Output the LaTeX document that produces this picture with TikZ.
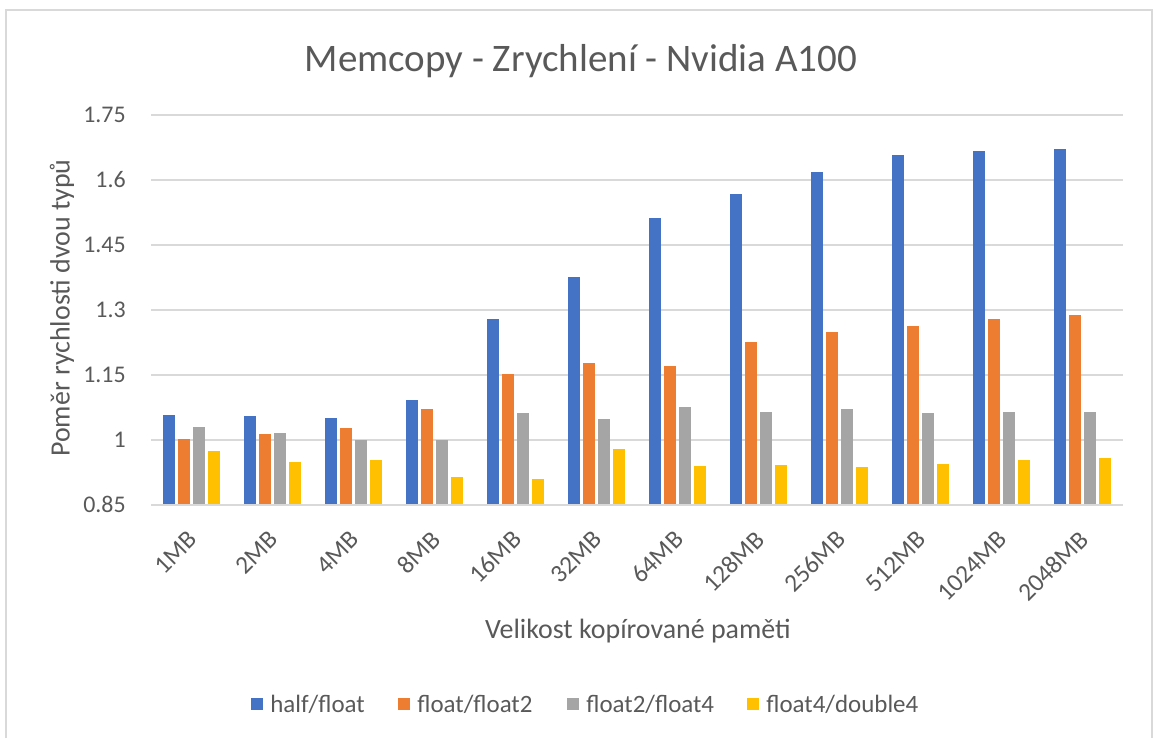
\documentclass[tikz,border=0pt]{standalone}
\usepackage{fontspec}
\setmainfont{Carlito}
\definecolor{hfblue}{HTML}{4472C4}
\definecolor{ffor}{HTML}{ED7D31}
\definecolor{fggrey}{HTML}{A5A5A5}
\definecolor{fdyel}{HTML}{FFC000}
\definecolor{txtgrey}{HTML}{595959}
\definecolor{gridgrey}{HTML}{D9D9D9}
\begin{document}
\begin{tikzpicture}[x=0.02cm, y=-0.02cm,
    grid/.style={gridgrey, line width=1pt},
    tick/.style={anchor=east, inner sep=0pt, text=txtgrey, font=\fontsize{13.6}{16}\selectfont},
    cat/.style={anchor=east, rotate=45, inner sep=0pt, text=txtgrey, font=\fontsize{14.4}{17}\selectfont},
    axt/.style={inner sep=0pt, text=txtgrey, font=\fontsize{15.9}{19}\selectfont},
    key/.style={anchor=west, inner sep=0pt, text=txtgrey, font=\fontsize{14.2}{17}\selectfont}]
  \useasboundingbox (0,0) rectangle (1154,738);
  \draw[gridgrey, line width=1.1pt] (6,738) -- (6,10) -- (1152,10) -- (1152,738);
  \node[inner sep=0pt, text=txtgrey, font=\fontsize{22.2}{26}\selectfont] (title) at (581,61) {Memcopy - Zrychlení - Nvidia A100};
  \begin{scope}[y=8.6667cm, yshift=-17.4667cm]
    \draw[grid] (151,1.75) -- (1123,1.75);
    \draw[grid] (151,1.6) -- (1123,1.6);
    \draw[grid] (151,1.45) -- (1123,1.45);
    \draw[grid] (151,1.3) -- (1123,1.3);
    \draw[grid] (151,1.15) -- (1123,1.15);
    \draw[grid] (151,1) -- (1123,1);
    \node[tick] (t175) at (126,1.75) {1.75};
    \node[tick] (t160) at (126,1.6) {1.6};
    \node[tick] (t145) at (126,1.45) {1.45};
    \node[tick] (t130) at (126,1.3) {1.3};
    \node[tick] (t115) at (126,1.15) {1.15};
    \node[tick] (t100) at (126,1) {1};
    \node[tick] (t085) at (126,0.85) {0.85};
    % 1MB
    \begin{scope}[shift={(191.5,0)}]
      \fill[hfblue] (-28.5,0.85) rectangle (-16.5,1.058);
      \fill[ffor] (-13.5,0.85) rectangle (-1.5,1.001);
      \fill[fggrey] (1.5,0.85) rectangle (13.5,1.030);
      \fill[fdyel] (16.5,0.85) rectangle (28.5,0.974);
    \end{scope}
    % 2MB
    \begin{scope}[shift={(272.5,0)}]
      \fill[hfblue] (-28.5,0.85) rectangle (-16.5,1.055);
      \fill[ffor] (-13.5,0.85) rectangle (-1.5,1.014);
      \fill[fggrey] (1.5,0.85) rectangle (13.5,1.016);
      \fill[fdyel] (16.5,0.85) rectangle (28.5,0.949);
    \end{scope}
    % 4MB
    \begin{scope}[shift={(353.5,0)}]
      \fill[hfblue] (-28.5,0.85) rectangle (-16.5,1.051);
      \fill[ffor] (-13.5,0.85) rectangle (-1.5,1.027);
      \fill[fggrey] (1.5,0.85) rectangle (13.5,1.000);
      \fill[fdyel] (16.5,0.85) rectangle (28.5,0.954);
    \end{scope}
    % 8MB
    \begin{scope}[shift={(434.5,0)}]
      \fill[hfblue] (-28.5,0.85) rectangle (-16.5,1.091);
      \fill[ffor] (-13.5,0.85) rectangle (-1.5,1.072);
      \fill[fggrey] (1.5,0.85) rectangle (13.5,1.000);
      \fill[fdyel] (16.5,0.85) rectangle (28.5,0.914);
    \end{scope}
    % 16MB
    \begin{scope}[shift={(515.5,0)}]
      \fill[hfblue] (-28.5,0.85) rectangle (-16.5,1.278);
      \fill[ffor] (-13.5,0.85) rectangle (-1.5,1.152);
      \fill[fggrey] (1.5,0.85) rectangle (13.5,1.061);
      \fill[fdyel] (16.5,0.85) rectangle (28.5,0.910);
    \end{scope}
    % 32MB
    \begin{scope}[shift={(596.5,0)}]
      \fill[hfblue] (-28.5,0.85) rectangle (-16.5,1.377);
      \fill[ffor] (-13.5,0.85) rectangle (-1.5,1.178);
      \fill[fggrey] (1.5,0.85) rectangle (13.5,1.048);
      \fill[fdyel] (16.5,0.85) rectangle (28.5,0.979);
    \end{scope}
    % 64MB
    \begin{scope}[shift={(677.5,0)}]
      \fill[hfblue] (-28.5,0.85) rectangle (-16.5,1.512);
      \fill[ffor] (-13.5,0.85) rectangle (-1.5,1.170);
      \fill[fggrey] (1.5,0.85) rectangle (13.5,1.075);
      \fill[fdyel] (16.5,0.85) rectangle (28.5,0.939);
    \end{scope}
    % 128MB
    \begin{scope}[shift={(758.5,0)}]
      \fill[hfblue] (-28.5,0.85) rectangle (-16.5,1.568);
      \fill[ffor] (-13.5,0.85) rectangle (-1.5,1.225);
      \fill[fggrey] (1.5,0.85) rectangle (13.5,1.065);
      \fill[fdyel] (16.5,0.85) rectangle (28.5,0.941);
    \end{scope}
    % 256MB
    \begin{scope}[shift={(839.5,0)}]
      \fill[hfblue] (-28.5,0.85) rectangle (-16.5,1.618);
      \fill[ffor] (-13.5,0.85) rectangle (-1.5,1.250);
      \fill[fggrey] (1.5,0.85) rectangle (13.5,1.071);
      \fill[fdyel] (16.5,0.85) rectangle (28.5,0.937);
    \end{scope}
    % 512MB
    \begin{scope}[shift={(920.5,0)}]
      \fill[hfblue] (-28.5,0.85) rectangle (-16.5,1.658);
      \fill[ffor] (-13.5,0.85) rectangle (-1.5,1.262);
      \fill[fggrey] (1.5,0.85) rectangle (13.5,1.061);
      \fill[fdyel] (16.5,0.85) rectangle (28.5,0.944);
    \end{scope}
    % 1024MB
    \begin{scope}[shift={(1001.5,0)}]
      \fill[hfblue] (-28.5,0.85) rectangle (-16.5,1.668);
      \fill[ffor] (-13.5,0.85) rectangle (-1.5,1.280);
      \fill[fggrey] (1.5,0.85) rectangle (13.5,1.064);
      \fill[fdyel] (16.5,0.85) rectangle (28.5,0.954);
    \end{scope}
    % 2048MB
    \begin{scope}[shift={(1082.5,0)}]
      \fill[hfblue] (-28.5,0.85) rectangle (-16.5,1.671);
      \fill[ffor] (-13.5,0.85) rectangle (-1.5,1.288);
      \fill[fggrey] (1.5,0.85) rectangle (13.5,1.064);
      \fill[fdyel] (16.5,0.85) rectangle (28.5,0.959);
    \end{scope}
    \draw[grid] (151,0.85) -- (1123,0.85);
  \end{scope}
  \node[cat] (c1) at (193,535) {1MB};
  \node[cat] (c2) at (274,535) {2MB};
  \node[cat] (c3) at (355,535) {4MB};
  \node[cat] (c4) at (436,535) {8MB};
  \node[cat] (c5) at (517,535) {16MB};
  \node[cat] (c6) at (598,535) {32MB};
  \node[cat] (c7) at (679,535) {64MB};
  \node[cat] (c8) at (760,535) {128MB};
  \node[cat] (c9) at (841,535) {256MB};
  \node[cat] (c10) at (922,535) {512MB};
  \node[cat] (c11) at (1003,535) {1024MB};
  \node[cat] (c12) at (1084,535) {2048MB};
  \node[axt] (xt) at (638,631) {Velikost kopírované paměti};
  \node[axt, rotate=90] (yt) at (62,308) {Poměr rychlosti dvou typů};
  \fill[hfblue] (251,698) rectangle (263,710);
  \node[key] (k1) at (270,704) {half/float};
  \fill[ffor] (398,698) rectangle (410,710);
  \node[key] (k2) at (417,704) {float/float2};
  \fill[fggrey] (567,698) rectangle (579,710);
  \node[key] (k3) at (586,704) {float2/float4};
  \fill[fdyel] (747,698) rectangle (759,710);
  \node[key] (k4) at (766,704) {float4/double4};
\end{tikzpicture}
\end{document}
